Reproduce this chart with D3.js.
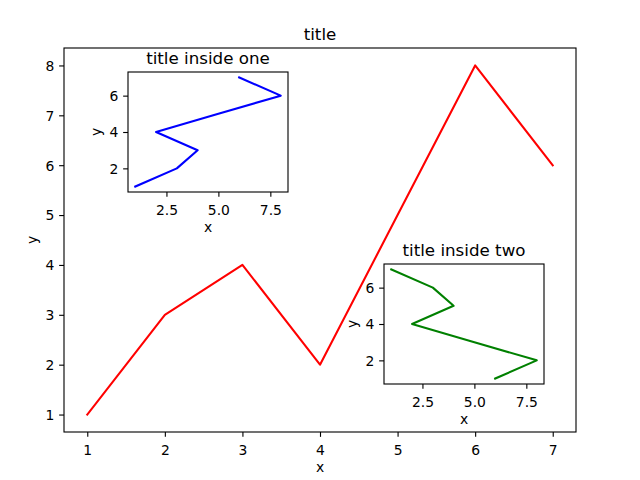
<!DOCTYPE html>
<html>
<head>
<meta charset="utf-8">
<script src="https://cdn.jsdelivr.net/npm/d3@7"></script>
<style>
  body { margin: 0; background: #fff; }
  svg text { font-family: "DejaVu Sans", sans-serif; }
</style>
</head>
<body>
<div id="chart"></div>
<script>
// data
const xs = [1, 2, 3, 4, 5, 6, 7];
const ys = [1, 3, 4, 2, 5, 8, 6];
const ysReversed = [6, 8, 5, 2, 4, 3, 1];

const mainXTicks = [1, 2, 3, 4, 5, 6, 7];
const mainYTicks = [1, 2, 3, 4, 5, 6, 7, 8];
const insetXTicks = [2.5, 5.0, 7.5];
const insetYTicks = [2, 4, 6];

const W = 640, H = 480;
const svg = d3.select("#chart").append("svg")
    .attr("width", W)
    .attr("height", H);

svg.append("rect").attr("width", W).attr("height", H).attr("fill", "#fff");

const tickLen = 4.86, tickPad = 4.86, fontPx = 13.9;

// one matplotlib-like axes box
function drawPanel(opts) {
    const { left, top, width, height, px, py, color, xTicks, yTicks, xFmt, title } = opts;
    const pad = v => { const [a, b] = d3.extent(v); const m = (b - a) * 0.05; return [a - m, b + m]; };

    const x = d3.scaleLinear().domain(pad(px)).range([left, left + width]);
    const y = d3.scaleLinear().domain(pad(py)).range([top + height, top]);

    const g = svg.append("g");
    g.append("rect")
        .attr("x", left).attr("y", top)
        .attr("width", width).attr("height", height)
        .attr("fill", "#fff");

    const line = d3.line().x((d, i) => x(px[i])).y((d, i) => y(py[i]));
    g.append("path")
        .datum(px)
        .attr("d", line)
        .attr("fill", "none")
        .attr("stroke", color)
        .attr("stroke-width", 2.08)
        .attr("stroke-linejoin", "round")
        .attr("stroke-linecap", "square");

    const xAxis = g.append("g")
        .attr("transform", `translate(0,${top + height})`)
        .call(d3.axisBottom(x).tickValues(xTicks).tickFormat(xFmt).tickSize(tickLen).tickPadding(tickPad));
    const yAxis = g.append("g")
        .attr("transform", `translate(${left},0)`)
        .call(d3.axisLeft(y).tickValues(yTicks).tickFormat(d3.format("d")).tickSize(tickLen).tickPadding(tickPad));

    [xAxis, yAxis].forEach(a => {
        a.select(".domain").remove();
        a.selectAll("line").attr("stroke", "#000").attr("stroke-width", 1.11);
        a.selectAll("text").attr("font-size", fontPx).attr("fill", "#000")
            .attr("font-family", "DejaVu Sans, sans-serif");
    });
    xAxis.selectAll("text").attr("dy", "0.95em");
    yAxis.selectAll("text").attr("dy", "0.35em");

    g.append("rect")
        .attr("x", left).attr("y", top)
        .attr("width", width).attr("height", height)
        .attr("fill", "none")
        .attr("stroke", "#000")
        .attr("stroke-width", 1.11);

    g.append("text")
        .attr("x", left + width / 2)
        .attr("y", top - 8.3)
        .attr("text-anchor", "middle")
        .attr("font-size", 16.7)
        .text(title);

    g.append("text")
        .attr("x", left + width / 2)
        .attr("y", top + height + 40)
        .attr("text-anchor", "middle")
        .attr("font-size", fontPx)
        .text("x");

    g.append("text")
        .attr("transform", `translate(${left - opts.yLabelOff},${top + height / 2}) rotate(-90)`)
        .attr("text-anchor", "middle")
        .attr("font-size", fontPx)
        .text("y");
}

drawPanel({
    left: 64, top: 48, width: 512, height: 384,
    px: xs, py: ys, color: "red",
    xTicks: mainXTicks, yTicks: mainYTicks, xFmt: d3.format("d"),
    title: "title", yLabelOff: 27
});

drawPanel({
    left: 128, top: 72, width: 160, height: 120,
    px: ys, py: xs, color: "blue",
    xTicks: insetXTicks, yTicks: insetYTicks, xFmt: d3.format(".1f"),
    title: "title inside one", yLabelOff: 27
});

drawPanel({
    left: 384, top: 264, width: 160, height: 120,
    px: ysReversed, py: xs, color: "green",
    xTicks: insetXTicks, yTicks: insetYTicks, xFmt: d3.format(".1f"),
    title: "title inside two", yLabelOff: 27
});
</script>
</body>
</html>
